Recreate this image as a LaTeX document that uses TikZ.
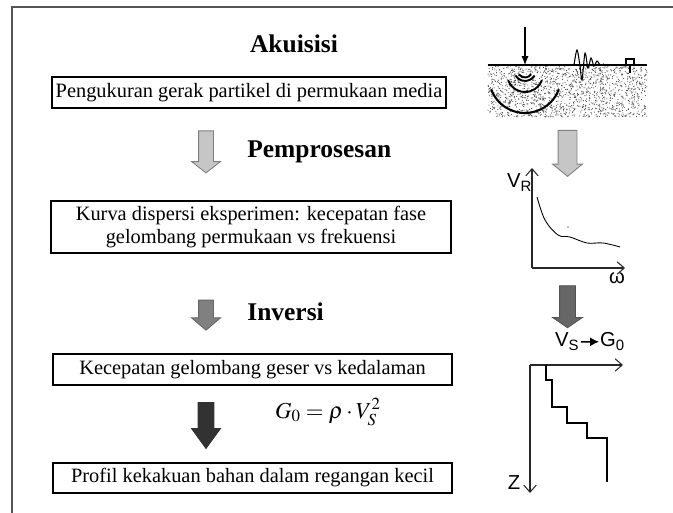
\documentclass[tikz,border=0pt]{standalone}
\usepackage{mathptmx}
\usepackage{fontspec}
\setmainfont{Liberation Serif}
\newfontfamily\labelfont{Liberation Sans}
\usetikzlibrary{shapes.arrows, arrows.meta, positioning}
\definecolor{framegray}{RGB}{85, 85, 85}
\definecolor{arrowlight}{RGB}{198, 198, 198}
\definecolor{arrowmid}{RGB}{128, 128, 128}
\definecolor{arrowdeep}{RGB}{102, 102, 102}
\definecolor{arrowdark}{RGB}{50, 50, 50}
\definecolor{axisgray}{RGB}{40, 40, 40}

\begin{document}
\begin{tikzpicture}[
  stagebox/.style={draw, line width=0.6pt, inner sep=0pt, align=center, font=\fontsize{11.6}{12.6}\selectfont},
  stagetitle/.style={font=\fontsize{14.5}{16}\selectfont\bfseries, inner sep=0pt},
  blockarrow/.style={single arrow, rotate=-90, inner xsep=0pt, single arrow head indent=0pt, line width=0.5pt},
  axisline/.style={draw=axisgray, line width=0.6pt, -{Straight Barb[length=4pt, width=7pt]}},
  sanslabel/.style={font=\labelfont\fontsize{11.5}{12}\selectfont, inner sep=0.5pt}
]
  \useasboundingbox (0, 0) rectangle (13.46, 10.26);

  % Open frame
  \draw[framegray, line width=1pt] (13.46, 10.12) -- (0.24, 10.12) -- (0.24, 0);

  % Akuisisi
  \node[stagetitle] (akuisisi) at (5.88, 9.38) {Akuisisi};
  \node[stagebox, minimum width=7.88cm, minimum height=0.62cm] (ukur) at (4.98, 8.41) {Pengukuran gerak partikel di permukaan media};

  % Pemprosesan
  \node[blockarrow, fill=arrowlight, draw=arrowmid, minimum height=0.84cm, inner ysep=0.14cm, single arrow head extend=0.14cm, single arrow tip angle=104] (procarrow) at (4.12, 7.28) {};
  \node[stagetitle, anchor=west] (pemprosesan) at (4.94, 7.22) {Pemprosesan};
  \node[stagebox, minimum width=8cm, minimum height=1.04cm] (kurva) at (5.02, 5.72) {Kurva dispersi eksperimen: kecepatan fase\\gelombang permukaan vs frekuensi};

  % Inversi
  \node[blockarrow, fill=arrowmid, draw=arrowdeep, minimum height=0.6cm, inner ysep=0.14cm, single arrow head extend=0.14cm, single arrow tip angle=99] (invarrow) at (4.12, 4.02) {};
  \node[stagetitle, anchor=west] (inversi) at (4.94, 4.02) {Inversi};
  \node[stagebox, minimum width=7.98cm, minimum height=0.62cm] (geser) at (5.05, 2.87) {Kecepatan gelombang geser vs kedalaman};

  % G0 from Vs
  \node[blockarrow, fill=arrowdark, draw=arrowdark, minimum height=0.92cm, inner ysep=0.15cm, single arrow head extend=0.13cm, single arrow tip angle=72] (modarrow) at (4.12, 1.86) {};
  \node[font=\fontsize{13}{14}\selectfont] (rumus) at (6.56, 2.02) {$G_0 = \rho\cdot V_S^2$};
  \node[stagebox, minimum width=7.98cm, minimum height=0.6cm] (profil) at (5.05, 0.70) {Profil kekakuan bahan dalam regangan kecil};

  % Ground with source and receiver
  \pgfmathsetseed{7}
  \foreach \i in {1,...,1500}
    \fill[black!75] ({9.76 + 3.18*rnd}, {7.92 + 1.04*rnd}) circle (0.011);
  \draw[line width=0.6pt] (9.76, 8.96) -- (12.94, 8.96);
  \draw[line width=0.6pt, -{Latex[length=5pt, width=4pt]}] (10.5, 9.72) -- (10.5, 8.96);
  \draw[line width=1.2pt] (10.5, 8.72) ++(200:0.72) arc (200:340:0.72);
  \draw[line width=1.1pt] (10.5, 8.78) ++(200:0.36) arc (200:340:0.36);
  \draw[line width=1.1pt] (10.5, 8.86) ++(210:0.22) arc (210:330:0.22);
  \draw[line width=1.1pt] (10.5, 8.86) ++(215:0.15) arc (215:325:0.15);
  \draw[line width=0.6pt] plot[smooth, tension=0.5] coordinates {(11.48, 8.96) (11.54, 9.26) (11.60, 8.94) (11.64, 8.66) (11.70, 9.20) (11.76, 8.90) (11.82, 9.10) (11.88, 8.94) (11.94, 9.04) (12.00, 8.96) (12.08, 8.98)};
  \draw[line width=0.6pt] (12.6, 8.96) -- (12.6, 8.8);
  \draw[line width=0.6pt, fill=white] (12.52, 8.96) rectangle (12.68, 9.08);

  % Dispersion curve
  \node[blockarrow, fill=arrowlight, draw=arrowmid, minimum height=0.92cm, inner ysep=0.18cm, single arrow head extend=0.11cm, single arrow tip angle=101] (disparrow) at (11.35, 7.27) {};
  \coordinate (origin1) at (10.64, 4.9);
  \draw[axisline] (origin1) -- (10.64, 6.9);
  \draw[axisline] (origin1) -- (12.5, 4.9);
  \node[sanslabel, anchor=base west] (vr) at (10.12, 6.5) {V\textsubscript{R}};
  \node[sanslabel] (omega) at (12.34, 4.7) {ω};
  \draw[line width=0.5pt] plot[smooth, tension=0.6] coordinates {(10.74, 6.32) (10.9, 5.86) (11.16, 5.56) (11.4, 5.52) (11.74, 5.4) (12.06, 5.4) (12.4, 5.32)};
  \fill (11.36, 5.72) circle (0.012);

  % Shear wave velocity profile
  \node[blockarrow, fill=arrowdeep, draw=arrowdeep!80!black, minimum height=0.84cm, inner ysep=0.15cm, single arrow head extend=0.14cm, single arrow tip angle=111] (profarrow) at (11.35, 4.18) {};
  \node[sanslabel, anchor=base west] (vs) at (11.08, 3.32) {V\textsubscript{S}};
  \node[sanslabel, anchor=base west] (gzero) at (11.98, 3.32) {G\textsubscript{0}};
  \draw[line width=0.8pt, -{Latex[length=5pt, width=5pt]}] (vs) -- (gzero);
  \coordinate (origin2) at (10.6, 2.96);
  \draw[axisline] (origin2) -- (12.46, 2.96);
  \draw[axisline] (origin2) -- (10.6, 0.4);
  \node[sanslabel] (zlabel) at (10.28, 0.6) {Z};
  \draw[line width=0.6pt] (10.92, 2.96) -- (10.92, 2.66) -- (11.04, 2.66) -- (11.04, 2.12) -- (11.34, 2.12) -- (11.34, 1.8) -- (11.74, 1.8) -- (11.74, 1.5) -- (12.14, 1.5) -- (12.14, 0.62);
\end{tikzpicture}
\end{document}
